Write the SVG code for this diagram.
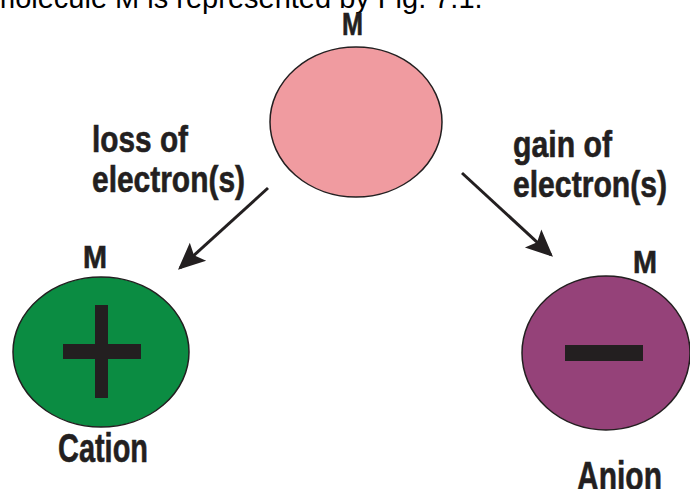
<svg xmlns="http://www.w3.org/2000/svg" width="690" height="489" viewBox="0 0 690 489">
  <defs>
    <style>
      .lbl { font-family: "Liberation Sans", Arial, sans-serif; font-weight: bold; fill: #231f20; stroke: #231f20; stroke-width: 0.6; }
      .cap { font-family: "Liberation Sans", Arial, sans-serif; fill: #000; }
      .ion { stroke: #231f20; stroke-width: 1.5; }
      .conn { stroke: #231f20; stroke-width: 3; fill: none; }
      .sign { fill: #231f20; }
    </style>
    <marker id="arrow" viewBox="0 0 10 10" refX="9" refY="5" markerWidth="9" markerHeight="9" markerUnits="strokeWidth" orient="auto">
      <path d="M0,0.5 L10,5 L0,9.5 L2,5 Z" fill="#231f20"/>
    </marker>
  </defs>
  <rect width="690" height="489" fill="#ffffff"/>

  <text class="cap" x="-9" y="8" font-size="29">molecule M is represented by Fig. 7.1.</text>

  <g id="molecule">
    <ellipse class="ion" cx="356" cy="122" rx="86" ry="75" fill="#f09ba0"/>
    <text class="lbl" x="342" y="35" font-size="31" textLength="21" lengthAdjust="spacingAndGlyphs">M</text>
  </g>

  <g id="cation">
    <ellipse class="ion" cx="101" cy="352" rx="88" ry="75" fill="#0b8c42"/>
    <rect class="sign" x="95" y="305" width="13" height="93"/>
    <rect class="sign" x="63" y="344" width="78" height="15"/>
    <text class="lbl" x="83" y="268" font-size="31" textLength="24" lengthAdjust="spacingAndGlyphs">M</text>
    <text class="lbl" x="58" y="462" font-size="41" textLength="90" lengthAdjust="spacingAndGlyphs">Cation</text>
  </g>

  <g id="anion">
    <ellipse class="ion" cx="606" cy="353" rx="84" ry="77" fill="#954279"/>
    <rect class="sign" x="565" y="345" width="78" height="16"/>
    <text class="lbl" x="633" y="273" font-size="31" textLength="24" lengthAdjust="spacingAndGlyphs">M</text>
    <text class="lbl" x="577" y="490" font-size="41" textLength="85" lengthAdjust="spacingAndGlyphs">Anion</text>
  </g>

  <g id="connectors">
    <line class="conn" x1="268" y1="188" x2="180" y2="268" marker-end="url(#arrow)"/>
    <line class="conn" x1="462" y1="173" x2="551" y2="255" marker-end="url(#arrow)"/>
    <g id="label-loss">
      <text class="lbl" x="92" y="152" font-size="36" textLength="96" lengthAdjust="spacingAndGlyphs">loss of</text>
      <text class="lbl" x="92" y="192" font-size="36" textLength="153" lengthAdjust="spacingAndGlyphs">electron(s)</text>
    </g>
    <g id="label-gain">
      <text class="lbl" x="513" y="157" font-size="36" textLength="99" lengthAdjust="spacingAndGlyphs">gain of</text>
      <text class="lbl" x="513" y="197" font-size="36" textLength="154" lengthAdjust="spacingAndGlyphs">electron(s)</text>
    </g>
  </g>
</svg>
